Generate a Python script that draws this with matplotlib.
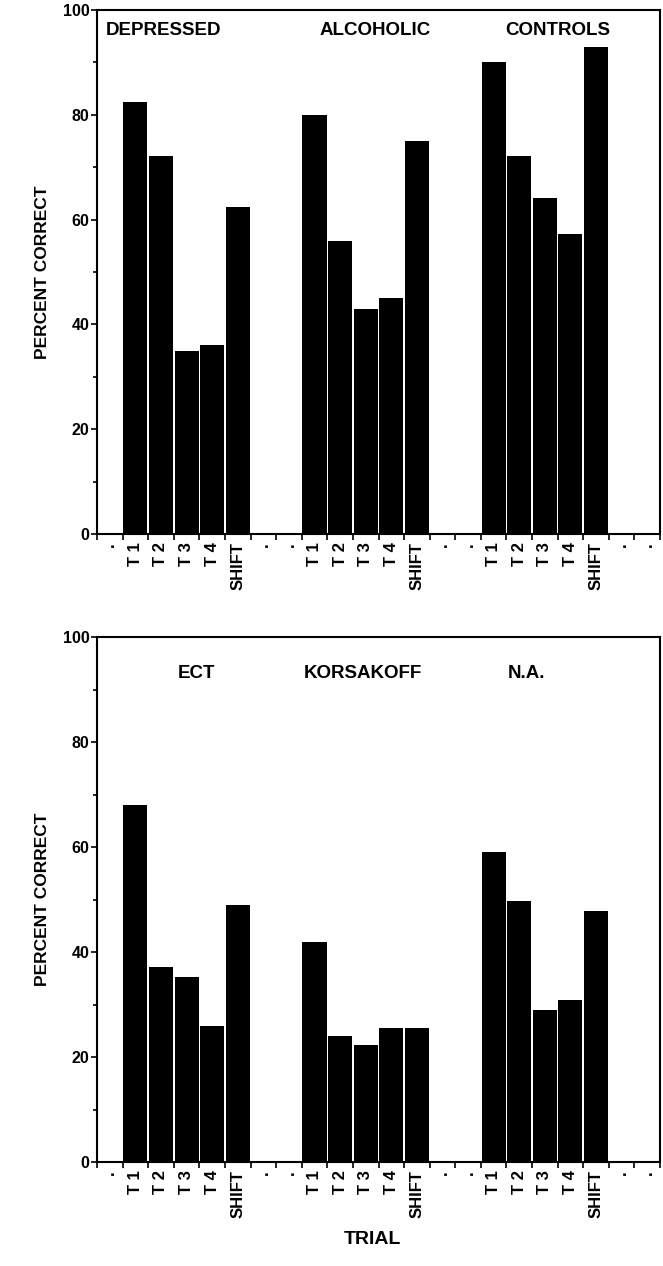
import numpy as np
import matplotlib.pyplot as plt
from matplotlib.ticker import MultipleLocator

plt.rcParams['font.family'] = ['Liberation Sans', 'DejaVu Sans']

# trial labels inside each group
trials = ['T 1', 'T 2', 'T 3', 'T 4', 'SHIFT']

# top panel
top_groups = ['DEPRESSED', 'ALCOHOLIC', 'CONTROLS']
depressed = [82.5, 72.2, 35.0, 36.0, 62.5]
alcoholic = [80.0, 56.0, 43.0, 45.0, 75.0]
controls = [90.0, 72.2, 64.2, 57.2, 93.0]

# bottom panel
bottom_groups = ['ECT', 'KORSAKOFF', 'N.A.']
ect = [68.0, 37.2, 35.2, 26.0, 49.0]
korsakoff = [42.0, 24.0, 22.3, 25.5, 25.6]
na = [59.0, 49.8, 28.9, 30.8, 47.9]

# slot layout: '.' before, 5 trials, '.' '.' between groups, '.' '.' after
slot_labels = ['.'] + trials + ['.', '.'] + trials + ['.', '.'] + trials + ['.', '.']
group_start = [1, 8, 15]


def draw_panel(ax, series, names, name_x, name_y, name_ha):
    for start, vals in zip(group_start, series):
        x = np.arange(start, start + len(vals))
        ax.bar(x, vals, width=0.94, color='black', edgecolor='none')
    for nm, nx, ha in zip(names, name_x, name_ha):
        ax.text(nx, name_y, nm, ha=ha, va='center', fontsize=13.5,
                fontweight='bold')
    ax.set_xlim(-0.5, len(slot_labels) - 0.5)
    ax.set_ylim(0, 100)
    ax.set_xticks(np.arange(len(slot_labels)))
    ax.set_xticklabels(slot_labels, rotation=90, fontsize=12,
                       fontweight='bold')
    ax.tick_params(axis='x', length=0, pad=6)
    # boundary ticks on x axis
    ax.set_xticks(np.arange(len(slot_labels) + 1) - 0.5, minor=True)
    ax.tick_params(axis='x', which='minor', length=4, width=1.2, direction='out')
    ax.yaxis.set_major_locator(MultipleLocator(20))
    ax.yaxis.set_minor_locator(MultipleLocator(10))
    ax.tick_params(axis='y', which='major', length=4, width=1.2, labelsize=11.5,
                   pad=1.5)
    ax.tick_params(axis='y', which='minor', length=3, width=1.2)
    for lab in ax.get_yticklabels():
        lab.set_fontweight('bold')
    for sp in ax.spines.values():
        sp.set_linewidth(1.5)
    ax.set_ylabel('PERCENT CORRECT', fontsize=12.5, fontweight='bold')
    ax.yaxis.set_label_coords(-0.084, 0.5)


fig = plt.figure(figsize=(6.63, 12.66), dpi=100)
ax1 = fig.add_axes([0.1463, 0.5782, 0.8492, 0.4139])
ax2 = fig.add_axes([0.1463, 0.0821, 0.8492, 0.4147])

draw_panel(ax1, [depressed, alcoholic, controls], top_groups,
           [-0.15, 10.35, 17.5], 96, ['left', 'center', 'center'])
draw_panel(ax2, [ect, korsakoff, na], bottom_groups,
           [3.4, 9.9, 16.3], 93, ['center', 'center', 'center'])

fig.text(0.562, 0.021, 'TRIAL', ha='center', va='center', fontsize=14,
         fontweight='bold')

fig.savefig('out.png', dpi=100)
